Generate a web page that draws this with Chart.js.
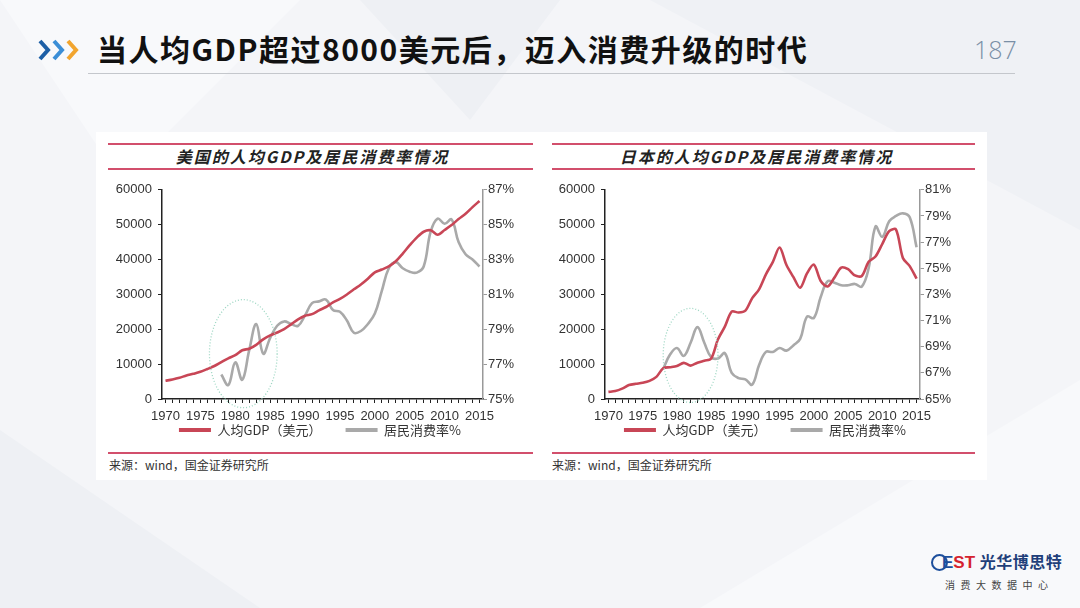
<!DOCTYPE html>
<html>
<head>
<meta charset="utf-8">
<script src="https://cdn.jsdelivr.net/npm/chart.js@4.4.0/dist/chart.umd.min.js"></script>
<style>
  body { margin:0; width:1080px; height:608px; overflow:hidden; position:relative;
         background:#f4f5f8; font-family:"Noto Sans CJK SC", sans-serif; }
  .abs { position:absolute; }
  #bg { left:0; top:0; }
  #title { left:97px; top:26px; font-size:30px; font-weight:bold; color:#111; letter-spacing:1.5px; white-space:nowrap; }
  #page { left:974px; top:32px; font-family:"Open Sans", sans-serif; font-weight:300; font-size:25px; color:#7a8fa6; }
  #rule { left:88px; top:73px; width:927px; height:1px; background:#c4c7cc; }
  #panel { left:96px; top:132px; width:891px; height:348px; background:#fff; }
  .red { height:2px; background:#d24f6c; }
  .ctitle { font-size:16px; font-weight:bold; font-style:italic; color:#222; text-align:center; letter-spacing:2px; }
  .src { font-size:12px; color:#333; }
  canvas { position:absolute; }
  #logo { left:931px; top:552px; white-space:nowrap; }
</style>
</head>
<body>
<svg id="bg" class="abs" width="1080" height="608">
  <polygon points="0,0 300,0 120,180" fill="#f8f9fb"/>
  <polygon points="650,0 1080,0 1080,230" fill="#eff1f5"/>
  <polygon points="0,430 260,608 0,608" fill="#eef0f4"/>
  <polygon points="700,608 1080,380 1080,608" fill="#f8f9fb"/>
  <polygon points="360,0 560,0 470,120" fill="#eef0f4"/>
</svg>

<svg class="abs" style="left:38px;top:39px" width="50" height="22">
  <polyline points="2,2 10,11 2,20" fill="none" stroke="#1d5fa6" stroke-width="4"/>
  <polyline points="16,2 24,11 16,20" fill="none" stroke="#3b8ed6" stroke-width="4"/>
  <polyline points="30,2 38,11 30,20" fill="none" stroke="#f2a52e" stroke-width="4"/>
</svg>
<div id="title" class="abs">当人均GDP超过8000美元后，迈入消费升级的时代</div>
<div id="page" class="abs">187</div>
<div id="rule" class="abs"></div>

<div id="panel" class="abs"></div>

<div class="abs red" style="left:108px;top:143px;width:425px"></div>
<div class="abs ctitle" style="left:100px;top:144px;width:425px">美国的人均GDP及居民消费率情况</div>
<div class="abs red" style="left:108px;top:168px;width:425px"></div>
<div class="abs red" style="left:108px;top:452px;width:425px"></div>
<div class="abs src" style="left:109px;top:456px">来源：wind，国金证券研究所</div>

<div class="abs red" style="left:552px;top:143px;width:423px"></div>
<div class="abs ctitle" style="left:545px;top:144px;width:423px">日本的人均GDP及居民消费率情况</div>
<div class="abs red" style="left:552px;top:168px;width:423px"></div>
<div class="abs red" style="left:552px;top:452px;width:423px"></div>
<div class="abs src" style="left:552px;top:456px">来源：wind，国金证券研究所</div>

<canvas id="usChart" width="440" height="298" style="left:100px;top:176px"></canvas>
<canvas id="jpChart" width="440" height="298" style="left:545px;top:176px"></canvas>

<div id="logo" class="abs">
  <div style="font-family:'Liberation Sans',sans-serif;font-weight:bold;font-size:17px;line-height:18px">
    <span style="display:inline-block;width:13px;height:13px;border:2.5px solid #1d4f9c;border-radius:50%;vertical-align:-3px;margin-right:-6px"></span><span style="color:#1d4f9c">E</span><span style="color:#d5232f">ST</span>
    <span style="font-family:'Noto Sans CJK SC';color:#1f3f7a;font-size:16px;letter-spacing:0.5px">光华博思特</span>
  </div>
  <div style="font-size:10px;color:#444;letter-spacing:5.5px;margin-left:14px;margin-top:5px">消费大数据中心</div>
</div>

<script>
var years = [1970, 1971, 1972, 1973, 1974, 1975, 1976, 1977, 1978, 1979,
             1980, 1981, 1982, 1983, 1984, 1985, 1986, 1987, 1988, 1989,
             1990, 1991, 1992, 1993, 1994, 1995, 1996, 1997, 1998, 1999,
             2000, 2001, 2002, 2003, 2004, 2005, 2006, 2007, 2008, 2009,
             2010, 2011, 2012, 2013, 2014, 2015];

// 美国 人均GDP（美元）
var usGdp = [5234, 5609, 6094, 6726, 7226, 7801, 8592, 9453, 10565, 11674,
             12575, 13976, 14434, 15544, 17121, 18237, 19071, 20039, 21417, 22857,
             23889, 24342, 25419, 26387, 27695, 28691, 29968, 31459, 32854, 34515,
             36335, 37133, 38023, 39497, 41712, 44115, 46299, 47976, 48383, 47100,
             48468, 49887, 51603, 53107, 55033, 56803];
// 美国 居民消费率%
var usRate = [null, null, null, null, null, null, null, null, 76.4, 75.8,
              77.1, 76.1, 77.8, 79.3, 77.6, 78.5, 79.2, 79.45, 79.3, 79.2,
              79.8, 80.5, 80.6, 80.7, 80.1, 80.0, 79.5, 78.8, 78.9, 79.3,
              79.9, 81.2, 82.5, 82.85, 82.5, 82.3, 82.25, 82.6, 84.6, 85.35,
              85.05, 85.3, 84.0, 83.3, 83.0, 82.6];

// 日本 人均GDP（美元）
var jpGdp = [2037, 2272, 2967, 3997, 4354, 4659, 5197, 6335, 8822, 9103,
             9465, 10361, 9578, 10425, 10984, 11585, 17112, 20745, 25052, 24813,
             25359, 28925, 31465, 35766, 39269, 43440, 38437, 35022, 31903, 36027,
             38532, 33846, 32289, 34808, 37689, 37218, 35434, 35275, 39339, 40855,
             44508, 48168, 48603, 40454, 38109, 34524];
// 日本 居民消费率%
var jpRate = [null, null, null, null, null, null, null, null, 67.3, 68.4,
              68.9, 68.3, 69.3, 70.5, 69.3, 68.2, 68.1, 68.5, 67.0, 66.6,
              66.5, 66.1, 67.6, 68.6, 68.6, 68.9, 68.7, 69.1, 69.6, 71.3,
              71.2, 72.8, 74.0, 73.9, 73.7, 73.7, 73.8, 73.6, 75.0, 78.2,
              77.4, 78.6, 79.0, 79.2, 78.9, 76.6];

var gdpTicks = [0, 60000, 10000];
var usRateTicks = [75, 87, 2];
var jpRateTicks = [65, 81, 2];

// dotted ellipse marks: [year from, year to, gdp from, gdp to]
var usCircle = [1976.3, 1986.0, -2500, 28500];
var jpCircle = [1978.0, 1986.0, -1000, 26000];

var seriesNames = ['人均GDP（美元）', '居民消费率%'];

var tickFont = { family: 'Liberation Sans', size: 13 };

var circlePlugin = {
  id: 'circleMark',
  afterLayout: function(chart) {
    // pull the legend up right under the year labels
    var lg = chart.legend;
    lg.top = chart.chartArea.bottom + 0.5;
    lg.bottom = lg.top + lg.height;
  },
  afterDatasetsDraw: function(chart, args, opts) {
    var c = opts.box, xs = chart.scales.x, ys = chart.scales.y;
    var x1 = xs.getPixelForValue(c[0] - years[0]), x2 = xs.getPixelForValue(c[1] - years[0]);
    var y1 = ys.getPixelForValue(c[3]), y2 = ys.getPixelForValue(c[2]);
    var ctx = chart.ctx;
    ctx.save();
    ctx.setLineDash([1, 2]);
    ctx.strokeStyle = '#9cd6c2';
    ctx.lineWidth = 1.3;
    ctx.beginPath();
    ctx.ellipse((x1 + x2) / 2, (y1 + y2) / 2, (x2 - x1) / 2, (y2 - y1) / 2, 0, 0, Math.PI * 2);
    ctx.stroke();
    ctx.restore();
  }
};

function makeChart(id, gdp, rate, rateTicks, circle, leftW, rightW) {
  return new Chart(document.getElementById(id), {
    type: 'line',
    data: {
      labels: years,
      datasets: [{
        label: seriesNames[0],
        data: gdp,
        yAxisID: 'y',
        borderColor: '#c84656',
        backgroundColor: '#c84656',
        borderWidth: 2.6,
        pointRadius: 0,
        tension: 0.3
      }, {
        label: seriesNames[1],
        data: rate,
        yAxisID: 'y1',
        borderColor: '#a9a9a9',
        backgroundColor: '#a9a9a9',
        borderWidth: 2.6,
        pointRadius: 0,
        tension: 0.4
      }]
    },
    options: {
      responsive: false,
      animation: false,
      devicePixelRatio: 1,
      layout: { padding: { top: 10, left: 0, right: 0, bottom: 0 } },
      plugins: {
        tooltip: { enabled: false },
        circleMark: { box: circle },
        legend: {
          position: 'bottom',
          labels: {
            boxWidth: 32, boxHeight: 4, padding: 24, color: '#333',
            font: { family: 'Noto Sans CJK SC', size: 13 },
            generateLabels: function(chart) {
              var items = Chart.defaults.plugins.legend.labels.generateLabels(chart);
              items.forEach(function(it) { it.lineWidth = 0; });
              return items;
            }
          }
        }
      },
      scales: {
        x: {
          offset: true,
          afterFit: function(s) { s.height = 28; },
          ticks: {
            autoSkip: false, maxRotation: 0, padding: 6, color: '#333', font: tickFont,
            callback: function(v, i) { return years[i] % 5 === 0 ? String(years[i]) : ''; }
          },
          grid: { drawOnChartArea: false, tickLength: 4, color: '#222' },
          border: { color: '#222', width: 1.5 }
        },
        y: {
          position: 'left',
          min: gdpTicks[0], max: gdpTicks[1],
          afterFit: function(s) { s.width = leftW; },
          ticks: { stepSize: gdpTicks[2], padding: 6, color: '#333', font: tickFont,
                   callback: function(v) { return String(v); } },
          grid: { drawOnChartArea: false, tickLength: 4, color: '#222' },
          border: { color: '#222', width: 1.5 }
        },
        y1: {
          position: 'right',
          min: rateTicks[0], max: rateTicks[1],
          afterFit: function(s) { s.width = rightW; },
          ticks: { stepSize: rateTicks[2], padding: 1, color: '#333', font: tickFont,
                   callback: function(v) { return v + '%'; } },
          grid: { drawOnChartArea: false, tickLength: 4, color: '#999' },
          border: { color: '#999', width: 1.5 }
        }
      }
    },
    plugins: [circlePlugin]
  });
}

makeChart('usChart', usGdp, usRate, usRateTicks, usCircle, 62, 57);
makeChart('jpChart', jpGdp, jpRate, jpRateTicks, jpCircle, 60, 65);
</script>
</body>
</html>
